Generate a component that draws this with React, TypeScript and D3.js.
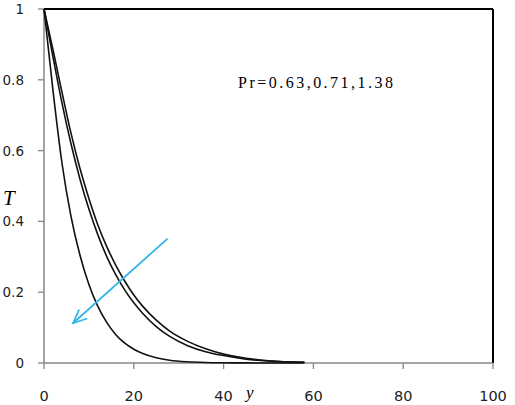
import React from "react";
import * as d3 from "d3";

const etaValues = [0, 2, 4, 6, 8, 10, 12, 14, 16, 18, 20, 22, 25, 28, 32, 36, 40, 45, 50, 58];
const tPr138 = [1, 0.77, 0.565, 0.415, 0.305, 0.222, 0.16, 0.114, 0.08, 0.056, 0.039, 0.027, 0.015, 0.008, 0.0035, 0.0015, 0.0007, 0.0003, 0.0001, 0];
const tPr071 = [1, 0.865, 0.735, 0.62, 0.52, 0.435, 0.362, 0.3, 0.249, 0.206, 0.17, 0.14, 0.103, 0.075, 0.049, 0.032, 0.021, 0.011, 0.0055, 0.002];
const tPr063 = [1, 0.885, 0.765, 0.65, 0.55, 0.465, 0.39, 0.328, 0.276, 0.231, 0.192, 0.16, 0.121, 0.09, 0.061, 0.04, 0.025, 0.013, 0.0065, 0.002];
const seriesList = [tPr138, tPr071, tPr063];
const xTicks = [0, 20, 40, 60, 80, 100];
const yTicks = [0, 0.2, 0.4, 0.6, 0.8, 1];
const yTickLabels = ["0", "0.2", "0.4", "0.6", "0.8", "1"];
const annotation = "Pr=0.63,0.71,1.38";
// arrow in data coordinates (eta, T)
const arrowFrom = [27.4, 0.35];
const arrowTo = [6.5, 0.113];

export default function App() {
  const x = d3.scaleLinear().domain([0, 100]).range([44, 493]);
  const y = d3.scaleLinear().domain([0, 1]).range([363, 9]);
  const line = d3
    .line<number>()
    .x((_, i) => x(etaValues[i]))
    .y((d) => y(d))
    .curve(d3.curveMonotoneX);

  const ax1 = x(arrowFrom[0]), ay1 = y(arrowFrom[1]);
  const ax2 = x(arrowTo[0]), ay2 = y(arrowTo[1]);
  const ang = Math.atan2(ay2 - ay1, ax2 - ax1);
  const headLen = 14;
  const spread = 0.42;
  const h1 = [ax2 - headLen * Math.cos(ang - spread), ay2 - headLen * Math.sin(ang - spread)];
  const h2 = [ax2 - headLen * Math.cos(ang + spread), ay2 - headLen * Math.sin(ang + spread)];

  const axisColor = "#878787";
  const labelFont = "'DejaVu Sans', Verdana, sans-serif";

  return (
    <svg
      width={515}
      height={405}
      style={{ position: "absolute", left: 0, top: 0, background: "#fff" }}
    >
      <rect x={0} y={0} width={515} height={405} fill="#fff" />
      {/* frame top & right */}
      <line x1={x(0)} x2={x(100)} y1={y(1)} y2={y(1)} stroke="#000" strokeWidth={2} />
      <line x1={x(100)} x2={x(100)} y1={y(1)} y2={y(0)} stroke="#000" strokeWidth={2} />
      {/* left axis */}
      <line x1={x(0)} x2={x(0)} y1={y(1)} y2={y(0)} stroke={axisColor} strokeWidth={1.5} />
      {yTicks.map((t, i) => (
        <g key={"yt" + i}>
          <line x1={x(0) - 6} x2={x(0)} y1={y(t)} y2={y(t)} stroke={axisColor} strokeWidth={1.3} />
          <text
            x={24}
            y={y(t)}
            textAnchor="end"
            dominantBaseline="central"
            fontFamily={labelFont}
            fontSize={13.5}
            fill="#222"
          >
            {yTickLabels[i]}
          </text>
        </g>
      ))}
      {/* bottom axis */}
      <line x1={x(0)} x2={x(100)} y1={y(0)} y2={y(0)} stroke={axisColor} strokeWidth={1.5} />
      {xTicks.map((t, i) => (
        <g key={"xt" + i}>
          <line x1={x(t)} x2={x(t)} y1={y(0)} y2={y(0) + 6} stroke={axisColor} strokeWidth={1.3} />
          <text
            x={x(t)}
            y={401}
            textAnchor="middle"
            fontFamily={labelFont}
            fontSize={14.5}
            fill="#222"
          >
            {t}
          </text>
        </g>
      ))}
      {/* curves */}
      {seriesList.map((s, i) => (
        <path key={"s" + i} d={line(s) || ""} fill="none" stroke="#111" strokeWidth={1.6} />
      ))}
      {/* arrow */}
      <g stroke="#33B5E5" strokeWidth={1.8} fill="none" strokeLinecap="round">
        <line x1={ax1} y1={ay1} x2={ax2} y2={ay2} />
        <polyline points={`${h1[0]},${h1[1]} ${ax2},${ay2} ${h2[0]},${h2[1]}`} />
      </g>
      {/* annotation */}
      <text
        x={238}
        y={88}
        fontFamily="'Liberation Serif', 'Times New Roman', serif"
        fontSize={16}
        textLength={155}
        lengthAdjust="spacing"
        fill="#000"
      >
        {annotation}
      </text>
      {/* axis titles */}
      <text
        x={3}
        y={205}
        fontFamily="'Liberation Serif', 'Times New Roman', serif"
        fontStyle="italic"
        fontSize={21}
        fill="#000"
      >
        T
      </text>
      <text
        x={246}
        y={398}
        fontFamily="'Liberation Serif', 'Times New Roman', serif"
        fontStyle="italic"
        fontSize={17}
        fill="#000"
      >
        y
      </text>
    </svg>
  );
}
